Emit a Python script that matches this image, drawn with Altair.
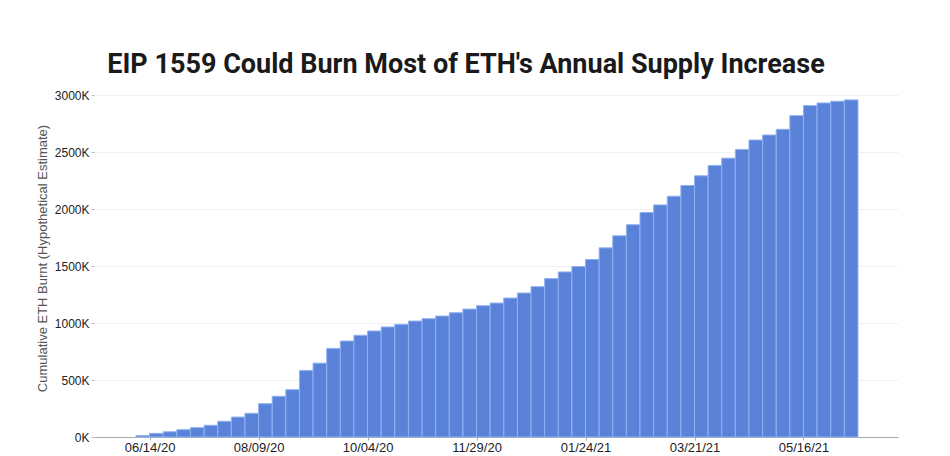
import altair as alt
import pandas as pd

weeks = [
    "2020-06-07", "2020-06-14", "2020-06-21", "2020-06-28", "2020-07-05", "2020-07-12",
    "2020-07-19", "2020-07-26", "2020-08-02", "2020-08-09", "2020-08-16", "2020-08-23",
    "2020-08-30", "2020-09-06", "2020-09-13", "2020-09-20", "2020-09-27", "2020-10-04",
    "2020-10-11", "2020-10-18", "2020-10-25", "2020-11-01", "2020-11-08", "2020-11-15",
    "2020-11-22", "2020-11-29", "2020-12-06", "2020-12-13", "2020-12-20", "2020-12-27",
    "2021-01-03", "2021-01-10", "2021-01-17", "2021-01-24", "2021-01-31", "2021-02-07",
    "2021-02-14", "2021-02-21", "2021-02-28", "2021-03-07", "2021-03-14", "2021-03-21",
    "2021-03-28", "2021-04-04", "2021-04-11", "2021-04-18", "2021-04-25", "2021-05-02",
    "2021-05-09", "2021-05-16", "2021-05-23", "2021-05-30", "2021-06-06",
]
burnt_k = [
    12, 32, 46, 64, 82, 103,
    138, 175, 208, 292, 357, 415,
    584, 648, 777, 842, 892, 930,
    965, 988, 1017, 1038, 1061, 1090,
    1122, 1152, 1175, 1219, 1263, 1319,
    1390, 1448, 1495, 1557, 1659, 1765,
    1862, 1970, 2036, 2112, 2206, 2291,
    2382, 2446, 2523, 2605, 2649, 2699,
    2819, 2907, 2930, 2945, 2957,
]
tick_dates = [(2020, 6, 14), (2020, 8, 9), (2020, 10, 4), (2020, 11, 29),
              (2021, 1, 24), (2021, 3, 21), (2021, 5, 16)]
y_ticks = [0, 500, 1000, 1500, 2000, 2500, 3000]

df = pd.DataFrame({"week": pd.to_datetime(weeks), "burnt": burnt_k})
df["week_end"] = df["week"] + pd.Timedelta(days=7)
df["week"] = df["week"].dt.strftime("%Y-%m-%dT00:00:00")
df["week_end"] = df["week_end"].dt.strftime("%Y-%m-%dT00:00:00")

chart = alt.Chart(df).mark_bar(
    color="#5a82d8", stroke="#8fb2f2", strokeWidth=1, orient="vertical"
).encode(
    x=alt.X("week:T",
            scale=alt.Scale(domain=[alt.DateTime(year=2020, month=5, date=19),
                                    alt.DateTime(year=2021, month=7, date=1)]),
            axis=alt.Axis(title=None, format="%m/%d/%y", grid=False,
                          values=[alt.DateTime(year=y, month=m, date=d) for y, m, d in tick_dates],
                          labelFontSize=13, labelColor="#222", labelFont="Liberation Sans",
                          domainColor="#aaa", tickColor="#aaa", tickSize=3, labelPadding=1)),
    x2="week_end:T",
    y=alt.Y("burnt:Q", scale=alt.Scale(domain=[0, 3000], nice=False),
            axis=alt.Axis(title="Cumulative ETH Burnt (Hypothetical Estimate)",
                          values=y_ticks, labelExpr="datum.value + 'K'",
                          labelFontSize=12, labelColor="#222", labelFont="Liberation Sans",
                          titleFontSize=13, titleFont="Liberation Sans", titleColor="#555",
                          titleFontWeight="normal", titlePadding=5, titleY=163,
                          domain=False, tickColor="#bbb", tickSize=3, gridColor="#f1f1f1")),
    y2=alt.datum(0),
).properties(
    width=804, height=342,
    title=alt.TitleParams("EIP 1559 Could Burn Most of ETH's Annual Supply Increase",
                          font="Roboto", fontSize=27, fontWeight="bold", color="#1a1a1a",
                          offset=10, dx=-30),
    autosize=alt.AutoSizeParams(type="none"),
    padding={"left": 86, "top": 87, "right": 44, "bottom": 19},
).configure_view(stroke=None)

chart.save("out.html", embed_options={"renderer": "svg", "actions": False})
